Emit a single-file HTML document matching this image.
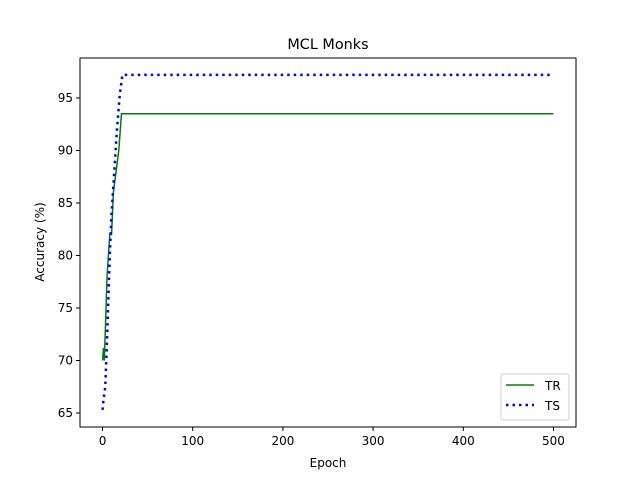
<!DOCTYPE html>
<html><head><meta charset="utf-8"><style>
body{margin:0;background:#fff;font-family:"Liberation Sans","DejaVu Sans",sans-serif;}
svg text{font-family:"DejaVu Sans","Liberation Sans",sans-serif;}
</style></head><body>
<svg id="chart" width="640" height="480" xmlns="http://www.w3.org/2000/svg">
<rect width="640" height="480" fill="#fff"/>
<text x="328" y="49" font-size="14.4" text-anchor="middle">MCL Monks</text>
<g id="plot"></g>
<text x="328" y="467" font-size="12" text-anchor="middle">Epoch</text>
<text transform="translate(44,242) rotate(-90)" font-size="12" text-anchor="middle">Accuracy (%)</text>
<g>
<rect x="501" y="374" width="68" height="46" rx="2" fill="#fff" stroke="#ccc"/>
<line x1="506" y1="385" x2="534" y2="385" stroke="green" stroke-width="1.5"/>
<text x="545" y="390" font-size="12">TR</text>
<line x1="506" y1="405" x2="534" y2="405" stroke="blue" stroke-width="2.5" stroke-dasharray="2.5,4"/>
<text x="545" y="410" font-size="12">TS</text>
</g>
</svg>
<script>
const trEpochs=[0,1,2,5,8,10,12,15,18,21,500];
const trValues=[70,71.2,70,78,82,82,86,88,90,93.5,93.5];
const tsEpochs=[0,1,3,5,8,10,13,16,19,22,500];
const tsValues=[65.3,66.2,67.5,72,80,84,88,92,95.2,97.2,97.2];
const xTicks=[0,100,200,300,400,500];
const yTicks=[65,70,75,80,85,90,95];
const L=80,R=576,T=58,B=427;
const xMin=-25,xMax=525,yMin=63.667,yMax=98.81;
const xs=v=>L+(v-xMin)/(xMax-xMin)*(R-L);
const ys=v=>B-(v-yMin)/(yMax-yMin)*(B-T);
const NS="http://www.w3.org/2000/svg";
const g=document.getElementById('plot');
function mk(t,a){const e=document.createElementNS(NS,t);for(const k in a)e.setAttribute(k,a[k]);g.appendChild(e);return e;}
xTicks.forEach(v=>{
 const l=mk('line',{x1:xs(v),x2:xs(v),y1:B,y2:B+4,stroke:'#000'});
 
 
 const t=mk('text',{x:xs(v),y:B+18,'font-size':12,'text-anchor':'middle'});t.textContent=v;
 
 
});
yTicks.forEach(v=>{
 const l=mk('line',{x1:L-4,x2:L,y1:ys(v),y2:ys(v),stroke:'#000'});
 
 
 const t=mk('text',{x:L-7,y:ys(v)+4,'font-size':12,'text-anchor':'end'});t.textContent=v;
 
 
});
const p1=mk('polyline',{points:trEpochs.map((e,i)=>xs(e)+','+ys(trValues[i])).join(' '),fill:'none',stroke:'green','stroke-width':1.5});


const p2=mk('polyline',{points:tsEpochs.map((e,i)=>xs(e)+','+ys(tsValues[i])).join(' '),fill:'none',stroke:'blue','stroke-width':2.5,'stroke-dasharray':'2.5,4'});


const fr=mk('rect',{x:L,y:T,width:R-L,height:B-T,fill:'none',stroke:'#000','stroke-width':1});


</script>
</body></html>
